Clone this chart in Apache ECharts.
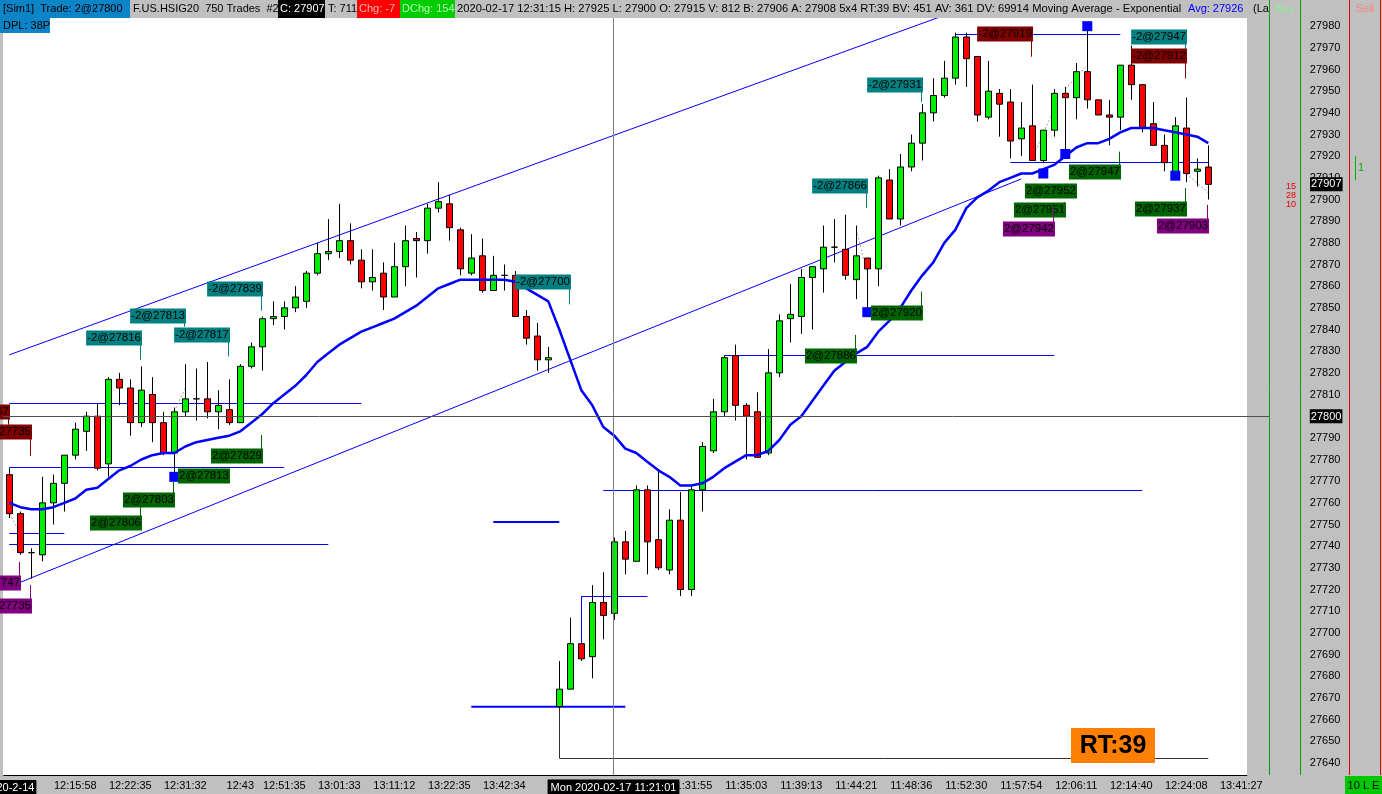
<!DOCTYPE html>
<html><head><meta charset="utf-8">
<script src="https://cdn.jsdelivr.net/npm/echarts@6/dist/echarts.min.js"></script>
<style>html,body{margin:0;padding:0;background:#c0c0c0;overflow:hidden}#c{width:1382px;height:794px}</style>
</head><body><div id="c"></div>
<script>
const FONT = '"Liberation Sans", Arial, sans-serif';

// ---- x axis ticks ----
const tickBars  = [0,6,11,16,21,25,30,35,40,45,50,54,58,62,67,72,77,82,87,92,97,102,107,112];
const tickTexts = ['2020-2-14','12:15:58','12:22:35','12:31:32','12:43','12:51:35','13:01:33','13:11:12','13:22:35','13:42:34','','','','11:31:55','11:35:03','11:39:13','11:44:21','11:48:36','11:52:30','11:57:54','12:06:11','12:14:40','12:24:08','13:41:27'];
const barCount = 113;

// ---- candles [open, close, low, high] ----
const candles = [
[27773,27755,27753,27776],[27755,27737,27736,27756],[27737,27737,27725,27739],[27736,27760,27733,27772],
[27760,27769,27750,27773],[27769,27782,27756,27782],[27782,27794,27780,27797],[27793,27800,27784,27802],
[27800,27776,27775,27806],[27778,27817,27772,27818],[27817,27813,27805,27820],[27813,27797,27791,27817],
[27797,27812,27795,27823],[27810,27797,27788,27818],[27797,27783,27782,27802],[27783,27802,27773,27804],
[27802,27808,27800,27824],[27808,27808,27798,27822],[27808,27802,27799,27825],[27802,27805,27794,27812],
[27803,27797,27796,27817],[27797,27823,27797,27824],[27823,27832,27822,27834],[27832,27845,27821,27846],
[27845,27846,27842,27853],[27846,27850,27840,27853],[27850,27855,27848,27860],[27853,27866,27850,27867],
[27866,27875,27865,27880],[27875,27876,27872,27891],[27876,27881,27873,27898],[27881,27872,27870,27889],
[27872,27862,27859,27877],[27862,27864,27858,27877],[27866,27855,27849,27871],[27855,27869,27855,27880],
[27869,27881,27860,27888],[27882,27881,27864,27885],[27881,27896,27875,27898],[27896,27899,27894,27908],
[27898,27887,27881,27902],[27886,27868,27865,27887],[27866,27873,27865,27884],[27874,27858,27857,27882],
[27858,27865,27858,27874],[27865,27865,27858,27870],[27865,27846,27846,27867],[27846,27836,27833,27849],
[27837,27826,27821,27843],[27826,27827,27820,27832],
[27666,27674,27665,27687],[27674,27695,27674,27707],[27695,27688,27687,27695],[27689,27714,27679,27722],
[27714,27708,27697,27728],[27709,27742,27706,27744],[27742,27734,27727,27747],[27733,27766,27733,27768],
[27766,27742,27727,27768],[27743,27730,27729,27775],[27729,27752,27727,27757],[27752,27720,27717,27765],
[27720,27766,27717,27768],[27766,27786,27756,27788],[27784,27802,27783,27808],[27802,27827,27800,27828],
[27828,27805,27798,27833],[27805,27800,27780,27806],[27802,27781,27781,27811],[27783,27820,27782,27831],
[27820,27844,27818,27847],[27845,27847,27834,27861],[27846,27864,27838,27868],[27864,27869,27840,27869],
[27868,27878,27857,27888],[27878,27878,27871,27891],[27877,27865,27863,27893],[27863,27874,27854,27888],
[27873,27868,27850,27873],[27868,27910,27860,27911],[27909,27891,27891,27914],[27891,27915,27888,27921],
[27915,27926,27913,27930],[27926,27940,27918,27944],[27940,27948,27936,27956],[27948,27956,27947,27964],
[27956,27975,27953,27977],[27975,27965,27952,27977],[27966,27939,27936,27966],[27938,27950,27937,27964],
[27949,27944,27929,27951],[27945,27927,27919,27951],[27928,27933,27920,27945],[27934,27918,27918,27953],
[27918,27932,27917,27932],[27932,27949,27929,27951],[27949,27947,27923,27952],[27947,27959,27937,27963],
[27959,27946,27942,27981],[27946,27939,27939,27946],[27939,27938,27925,27946],[27938,27962,27932,27962],
[27962,27953,27946,27971],[27953,27933,27931,27953],[27935,27925,27925,27945],[27925,27917,27913,27930],
[27912,27934,27912,27938],[27933,27912,27908,27947],[27913,27914,27906,27919],[27915,27907,27900,27925]
];

// ---- exponential moving average ----
const ema = [
27760,27758,27757,27757,27758,27760,27762,27766,27767,27771,27775,27777,27780,27782,27783,27783,
27786,27788,27789,27790,27791,27793,27797,27801,27806,27810,27814,27819,27825,27829,27833,27836,
27839,27841,27843,27845,27848,27851,27855,27859,27861,27863,27863,27863,27863,27863,27862,27859,
27856,27853,27840,27826,27812,27805,27795,27791,27785,27783,27779,27775,27772,27768,27768,27769,
27772,27776,27779,27782,27782,27784,27789,27796,27800,27807,27814,27821,27825,27829,27832,27839,
27844,27850,27858,27865,27871,27880,27886,27896,27901,27904,27908,27910,27912,27912,27914,27916,
27920,27924,27926,27926,27928,27931,27933,27933,27933,27932,27931,27930,27929,27926
];

// ---- fills (blue squares) [bar, price] ----
const fillBars   = [15, 78, 98, 94, 96, 106];
const fillPrices = [27772, 27848, 27980, 27912, 27921, 27911];

// ---- trade labels ----
const tradeText  = ['-2@27767','-2@27735','2@27747','2@27735','-2@27816','-2@27813','-2@27817','-2@27839','2@27829','2@27813','2@27803','2@27806','-2@27700','-2@27866','2@27886','2@27920','-2@27931','-2@27919','-2@27947','-2@27912','2@27947','2@27952','2@27951','2@27942','2@27937','2@27903'];
const tradeBar   = [0,2,1,2,12,16,20,23,23,20,15,12,51,78,77,83,83,93,107,107,101,97,96,95,107,109];
const tradeAt    = [27802,27792.5,27723,27712.5,27836,27846.3,27837.6,27858.8,27781.5,27772.6,27761.2,27750.6,27861.8,27906.2,27827.6,27847.5,27953,27976.3,27974.9,27966.2,27912.6,27903.8,27895.2,27886.2,27895.4,27887.6];
const tradeStick = [27796,27781.6,27732.7,27722.1,27825.9,27841.3,27827.5,27848.7,27791.3,null,27769.8,27758,27851.6,27896,27837.5,27857.5,27945,27965.9,27969.5,27955.9,27922.1,27906,27898.8,27896.7,27905.3,27897.5];
const tradeKind  = ['exitShort','exitShort','exitLong','exitLong','short','short','short','short','long','long','long','long','short','short','long','long','short','exitShort','short','exitShort','long','long','long','exitLong','long','exitLong'];

// ---- drawn lines [bar, price] -> [bar, price] ----
const lineStart = [[0,27828.3],[0,27721.3],[0,27806],[0,27776.7],[0,27746],[0,27740.9],[44,27751.2],[42,27665.9],[52,27716.8],[52,27716.8],[54,27765.9],[65,27828.2],[91,27917.5],[86,27976.3],[50,27666],[50,27642.2],
                   [0,27755],[15,27802],[77,27886],[93,27919],[96,27951],[107,27947],[107,27912]];
const lineEnd   = [[85,27985],[92,27909.5],[32,27806],[25,27776.7],[5,27746],[29,27740.9],[50,27751.2],[56,27665.9],[58,27716.8],[52,27694.5],[103,27765.9],[95,27828.2],[109,27917.5],[101,27976.3],[50,27642.2],[109,27642.2],
                   [1,27746],[16,27813],[78,27866],[95,27942],[98,27962],[107,27937],[109,27903]];
const lineKind  = ['thin','thin','thin','thin','thin','thin','thick','thick','thin','thin','thin','thin','thin','thin','black','black',
                   'dash','dash','dash','dash','dash','dashDark','dash'];

// ---- crosshair / last price ----
const crossBar = 55, crossPrice = 27800, crossLabel = 'Mon 2020-02-17 11:21:01';
const lastPrice = 27907;

const KIND_COLOR = {short:'#008080', long:'#006400', exitShort:'#800000', exitLong:'#800080'};
const LINE_STYLE = {thin:{c:'#0000ff',w:1}, thick:{c:'#0000ff',w:2}, black:{c:'#303030',w:1},
                    dash:{c:'#a0a0a0',w:1,d:[2,2]}, dashDark:{c:'#404040',w:1,d:[2,2]}};

const categories = Array.from({length: barCount}, (_, i) => String(i));
const tickMap = {}; tickBars.forEach((b, i) => tickMap[b] = tickTexts[i]);

const chart = echarts.init(document.getElementById('c'), null, {width:1382, height:794});
const option = {
  animation: false,
  backgroundColor: '#c0c0c0',
  textStyle: {fontFamily: FONT},
  grid: {left: 3.8, width: 1243, top: 4.5, height: 780, containLabel: false, outerBoundsMode: 'none', show: false},
  xAxis: {
    type: 'category', data: categories, boundaryGap: true, offset: -9.5,
    axisLine: {lineStyle: {color: '#000', width: 1}},
    axisTick: {alignWithLabel: true, length: 4, interval: (i) => tickMap[i] !== undefined, lineStyle: {color: '#000'}},
    axisLabel: {
      interval: (i) => tickMap[i] !== undefined, margin: 5, fontSize: 11, color: '#000', fontFamily: FONT,
      formatter: (v, i) => { const t = tickMap[i] || ''; return i === 0 ? '{d|' + t + '}' : t; },
      rich: {d: {backgroundColor: '#000', color: '#fff', padding: [2, 2, 1, 2], fontSize: 11, fontFamily: FONT}}
    },
    splitLine: {show: false}
  },
  yAxis: {
    type: 'value', min: 27630, max: 27990, interval: 10, position: 'right', scale: true,
    axisLine: {show: false}, axisTick: {show: false}, splitLine: {show: false},
    axisLabel: {
      margin: 63, align: 'left', fontSize: 11, color: '#000', fontFamily: FONT,
      showMinLabel: false, showMaxLabel: false,
      formatter: (v) => v === crossPrice ? '{hl|' + v + '}' : String(v),
      rich: {hl: {backgroundColor: '#000', color: '#fff', padding: [2, 1, 1, 1], fontSize: 11, fontFamily: FONT}}
    }
  },
  series: [
    {
      type: 'custom', name: 'drawings', coordinateSystem: 'cartesian2d', z: 1, clip: false, silent: true,
      data: lineStart.map((s, i) => [s[0], s[1], lineEnd[i][0], lineEnd[i][1]]),
      encode: {x: [0, 2], y: [1, 3]},
      renderItem(params, api) {
        const a = api.coord([api.value(0), api.value(1)]);
        const b = api.coord([api.value(2), api.value(3)]);
        const st = LINE_STYLE[lineKind[params.dataIndex]];
        let y1 = a[1], y2 = b[1], x1 = a[0], x2 = b[0];
        if (Math.abs(y1 - y2) < 0.01 && st.w === 1) { y1 = y2 = Math.round(y1) + 0.5; }
        if (Math.abs(x1 - x2) < 0.01) { x1 = x2 = Math.round(x1) + 0.5; }
        return {type: 'line', shape: {x1, y1, x2, y2}, style: {stroke: st.c, lineWidth: st.w, lineDash: st.d || null}};
      }
    },
    {
      type: 'candlestick', name: 'F.US.HSIG20', data: candles, barWidth: 7, z: 2,
      itemStyle: {color: '#00ee00', color0: '#ff0000', borderColor: '#000', borderColor0: '#000', borderWidth: 1}
    },
    {
      type: 'line', name: 'EMA', data: ema, symbol: 'none', smooth: false, z: 3,
      lineStyle: {color: '#0000ff', width: 2.5}
    },
    {
      type: 'scatter', name: 'fills', symbol: 'rect', symbolSize: 10, z: 4,
      data: fillBars.map((b, i) => [b, fillPrices[i]]),
      itemStyle: {color: '#0000ff', opacity: 1}
    },
    {
      type: 'custom', name: 'trades', coordinateSystem: 'cartesian2d', z: 5, clip: false,
      data: tradeBar.map((b, i) => [b, tradeAt[i], tradeStick[i] == null ? tradeAt[i] : tradeStick[i]]),
      encode: {x: 0, y: [1, 2]},
      renderItem(params, api) {
        const i = params.dataIndex;
        const c = api.coord([api.value(0), api.value(1)]);
        const s = api.coord([api.value(0), api.value(2)]);
        const col = KIND_COLOR[tradeKind[i]];
        const sx = Math.round(c[0]) - 0.5;
        return {type: 'group', children: [
          {type: 'line', shape: {x1: sx, y1: c[1], x2: sx, y2: s[1]}, style: {stroke: col, lineWidth: 1}},
          {type: 'text', x: Math.round(c[0]) + 1, y: Math.round(c[1]),
           style: {text: tradeText[i], font: '11.5px ' + FONT, fill: '#000', backgroundColor: col,
                   padding: [2, 1, 1, 1], align: 'right', verticalAlign: 'middle'}}
        ]};
      }
    }
  ]
};
chart.setOption(option);

// ---- chrome overlays (positions from the chart's own scales where data related) ----
const P = (b, v) => chart.convertToPixel({gridIndex: 0}, [b, v]);
const cx = Math.round(P(crossBar, crossPrice)[0]) - 0.5;
const cy = Math.round(P(crossBar, crossPrice)[1]) + 0.5;
const ly = P(0, lastPrice)[1];
const plotTop = 18, plotBottom = 775, plotLeft = 3, plotRight = 1247;
const T = (text, x, y, o) => Object.assign({type: 'text', x, y, z: 100,
  style: Object.assign({text, font: '11px ' + FONT, fill: '#000', verticalAlign: 'middle', align: 'left'}, (o && o.style) || {})}, o && o.el || {});
const R = (x, y, w, h, fill, z) => ({type: 'rect', shape: {x, y, width: w, height: h}, style: {fill}, z: z == null ? 99 : z});
const L = (x1, y1, x2, y2, stroke, z) => ({type: 'line', shape: {x1, y1, x2, y2}, style: {stroke, lineWidth: 1}, z: z == null ? 99 : z});

const g = [
  R(plotLeft, plotTop, plotRight - plotLeft, plotBottom - plotTop, '#ffffff', -100),
  // header
  R(0, 0, 1382, 18, '#c0c0c0', 98),
  R(0, 0, 130, 18, '#0b84c8'), T('[Sim1]  Trade: 2@27800', 3, 9),
  T('F.US.HSIG20  750 Trades  #2', 133, 9),
  R(278, 0, 47, 18, '#000000'), T('C: 27907', 280, 9, {style: {fill: '#ffffff'}}),
  T('T: 711', 328, 9),
  R(357, 0, 43, 18, '#ff0000'), T('Chg: -7', 359, 9, {style: {fill: '#ffb8b8'}}),
  R(400, 0, 55, 18, '#00cc00'), T('DChg: 154', 402, 9, {style: {fill: '#b8ffb8'}}),
  T('2020-02-17 12:31:15 H: 27925 L: 27900 O: 27915 V: 812 B: 27906 A: 27908 5x4 RT:39 BV: 451 AV: 361 DV: 69914 Moving Average - Exponential', 457, 9, {style: {font: '11.2px ' + FONT}}),
  T('Avg: 27926', 1188, 9, {style: {fill: '#0000ff'}}),
  T('(La', 1253, 9),
  R(0, 18, 50, 15, '#0b84c8'), T('DPL: 38P', 3, 25.5),
  // right panel columns
  L(1269.5, 0, 1269.5, 775, '#00a000'), L(1300.5, 0, 1300.5, 775, '#00a000'),
  L(1349.5, 0, 1349.5, 775, '#e00000'), L(1380.5, 0, 1380.5, 775, '#e00000'),
  T('Buy', 1284.5, 9, {style: {fill: '#90ee90', align: 'center'}}),
  T('Sell', 1365, 9, {style: {fill: '#ff8080', align: 'center'}}),
  T('15', 1291, ly + 2, {style: {fill: '#e00000', font: '9px ' + FONT, align: 'center'}}),
  T('28', 1291, ly + 11, {style: {fill: '#e00000', font: '9px ' + FONT, align: 'center'}}),
  T('10', 1291, ly + 20, {style: {fill: '#e00000', font: '9px ' + FONT, align: 'center'}}),
  T('1', 1361, ly - 16, {style: {fill: '#00b000', font: '10px ' + FONT, align: 'center'}}),
  L(1355.5, ly - 28, 1355.5, ly - 4, '#00b000'),
  // crosshair
  L(cx, plotTop, cx, plotBottom, '#808080', 6),
  L(plotLeft, cy, 1269, cy, '#505050', 6),
  T(crossLabel, cx, 787.5, {style: {fill: '#ffffff', backgroundColor: '#000000', padding: [3, 3, 2, 3], align: 'center'}}),
  // last price tag
  T(String(lastPrice), 1310, ly, {style: {fill: '#ffffff', backgroundColor: '#000000', padding: [2, 1, 1, 1]}}),
  // RT box
  R(1071, 728, 84, 35, '#ff8000'),
  T('RT:39', 1113, 746, {style: {font: 'bold 25px ' + FONT, align: 'center'}}),
  // bottom-right status
  R(1345, 776, 37, 18, '#00c800'), T('10 L E', 1363.5, 785.5, {style: {align: 'center'}})
];
chart.setOption({graphic: {elements: g}});
</script>
</body></html>
